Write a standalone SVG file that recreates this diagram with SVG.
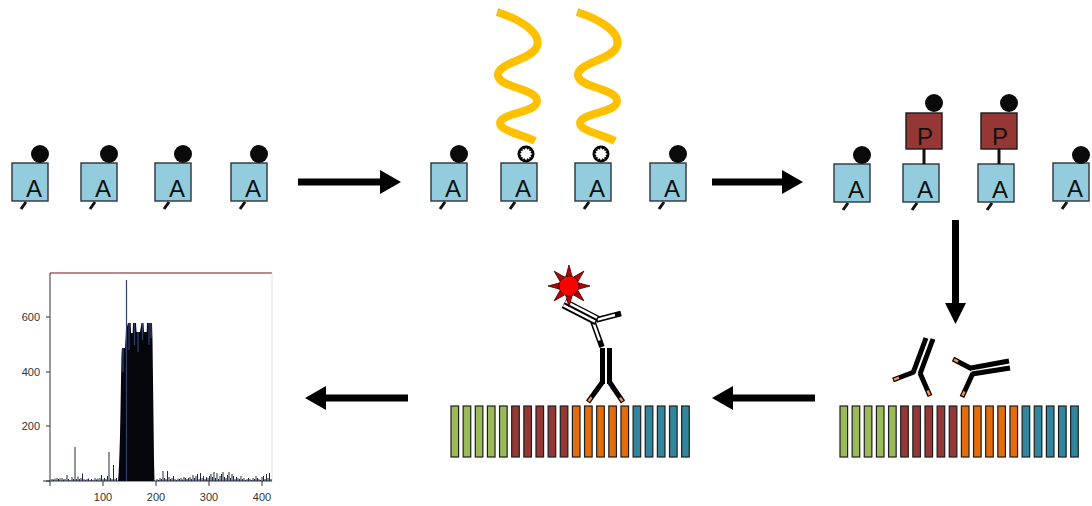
<svg xmlns="http://www.w3.org/2000/svg" xmlns:xlink="http://www.w3.org/1999/xlink" width="1092" height="506" viewBox="0 0 1092 506">
  <style>
    .abox { fill: #93CDDD; stroke: #2b3340; stroke-width: 1.4; }
    .pbox { fill: #953735; stroke: #1a1a1a; stroke-width: 1.4; }
    .lbl { font-family: "Liberation Sans", Arial, sans-serif; font-size: 24px; fill: #111; text-anchor: middle; }
    .tail { stroke: #111; stroke-width: 3; stroke-linecap: butt; }
    .dot { fill: #0a0a0a; }
    .link { stroke: #111; stroke-width: 3; }
    .wave { fill: none; stroke: #FFC000; stroke-width: 8; stroke-linecap: butt; }
    .arrow { fill: #000; }
    .bar { stroke: #1e1e1e; stroke-width: 1.2; }
    .g { fill: #9BBB59; } .r { fill: #953735; } .o { fill: #E46C0A; } .t { fill: #31859C; }
    .ab { stroke: #000; stroke-width: 5; stroke-linecap: butt; fill: none; }
    .ab2 { stroke: #000; stroke-width: 5.5; stroke-linecap: butt; fill: none; }
    .ab3 { stroke: #000; stroke-width: 10; stroke-linecap: butt; fill: none; }
    .tip { stroke: #F79646; stroke-width: 2.4; stroke-linecap: butt; fill: none; }
    .wb { stroke: #fff; stroke-width: 2.4; stroke-linecap: butt; fill: none; }
    .axis { stroke: #333; stroke-width: 1; fill: none; }
    .tick { font-family: "Liberation Sans", Arial, sans-serif; font-size: 11px; fill: #333; }
    .hist { stroke: #1d2844; stroke-width: 1; fill: none; }
  </style>
  <defs>
    <!-- one A unit: box and its anchoring tail -->
    <g id="unitA">
      <rect class="abox" x="0" y="0" width="36" height="38"/>
      <line class="tail" x1="14" y1="39" x2="9" y2="46"/>
    </g>
    <!-- cleaved marker: black ring with white star inside -->
    <g id="burst">
      <circle r="8.5" fill="#000"/>
      <polygon fill="#fff" points="0,-6.5 1.4,-4.3 3.3,-5.6 3.4,-3.1 5.6,-3.3 4.4,-1.2 6.5,0 4.4,1.2 5.6,3.3 3.4,3.1 3.3,5.6 1.4,4.3 0,6.5 -1.4,4.3 -3.3,5.6 -3.4,3.1 -5.6,3.3 -4.4,1.2 -6.5,0 -4.4,-1.2 -5.6,-3.3 -3.4,-3.1 -3.3,-5.6 -1.4,-4.3"/>
    </g>
    <!-- strip of 20 coloured bars -->
    <g id="strip">
      <rect class="bar g" x="0" y="0" width="7.6" height="51"/>
      <rect class="bar g" x="12.14" y="0" width="7.6" height="51"/>
      <rect class="bar g" x="24.28" y="0" width="7.6" height="51"/>
      <rect class="bar g" x="36.42" y="0" width="7.6" height="51"/>
      <rect class="bar g" x="48.56" y="0" width="7.6" height="51"/>
      <rect class="bar r" x="60.7" y="0" width="7.6" height="51"/>
      <rect class="bar r" x="72.84" y="0" width="7.6" height="51"/>
      <rect class="bar r" x="84.98" y="0" width="7.6" height="51"/>
      <rect class="bar r" x="97.12" y="0" width="7.6" height="51"/>
      <rect class="bar r" x="109.26" y="0" width="7.6" height="51"/>
      <rect class="bar o" x="121.4" y="0" width="7.6" height="51"/>
      <rect class="bar o" x="133.54" y="0" width="7.6" height="51"/>
      <rect class="bar o" x="145.68" y="0" width="7.6" height="51"/>
      <rect class="bar o" x="157.82" y="0" width="7.6" height="51"/>
      <rect class="bar o" x="169.96" y="0" width="7.6" height="51"/>
      <rect class="bar t" x="182.1" y="0" width="7.6" height="51"/>
      <rect class="bar t" x="194.24" y="0" width="7.6" height="51"/>
      <rect class="bar t" x="206.38" y="0" width="7.6" height="51"/>
      <rect class="bar t" x="218.52" y="0" width="7.6" height="51"/>
      <rect class="bar t" x="230.66" y="0" width="7.6" height="51"/>
    </g>
  </defs>

  <rect width="1092" height="506" fill="#fff"/>

  <!-- stage 1: four units, all capped -->
  <g id="stage1">
    <g id="s1-u1"><use xlink:href="#unitA" x="12" y="163"/><text class="lbl" x="34" y="197">A</text><circle class="dot" cx="40" cy="154" r="9"/></g>
    <g id="s1-u2"><use xlink:href="#unitA" x="81" y="163"/><text class="lbl" x="103" y="197">A</text><circle class="dot" cx="109" cy="154" r="9"/></g>
    <g id="s1-u3"><use xlink:href="#unitA" x="155" y="163"/><text class="lbl" x="177" y="197">A</text><circle class="dot" cx="183" cy="154" r="9"/></g>
    <g id="s1-u4"><use xlink:href="#unitA" x="231" y="163"/><text class="lbl" x="253" y="197">A</text><circle class="dot" cx="259" cy="154" r="9"/></g>
  </g>

  <!-- stage 2: two caps opened by ligand strands -->
  <g id="stage2">
    <g id="s2-u1"><use xlink:href="#unitA" x="431" y="163"/><text class="lbl" x="453" y="197">A</text><circle class="dot" cx="459" cy="154" r="9"/></g>
    <g id="s2-u2"><use xlink:href="#unitA" x="501" y="163"/><text class="lbl" x="523" y="197">A</text><use xlink:href="#burst" x="526" y="154"/>
      <path class="wave" d="M497,12 C522,20 541,33 537,46 C533,60 498,62 498,75 C498,88 537,88 537,101 C537,113 500,113 500,123 C500,131 524,135 535,141"/></g>
    <g id="s2-u3"><use xlink:href="#unitA" x="575" y="163"/><text class="lbl" x="597" y="197">A</text><use xlink:href="#burst" x="601" y="154"/>
      <path class="wave" d="M577,12 C602,20 621,33 617,46 C613,60 578,62 578,75 C578,88 617,88 617,101 C617,113 580,113 580,123 C580,131 604,135 615,141"/></g>
    <g id="s2-u4"><use xlink:href="#unitA" x="650" y="163"/><text class="lbl" x="672" y="197">A</text><circle class="dot" cx="678" cy="154" r="9"/></g>
  </g>

  <!-- stage 3: P modules attached to the opened units -->
  <g id="stage3">
    <g id="s3-u1"><use xlink:href="#unitA" x="834" y="164"/><text class="lbl" x="856" y="198">A</text><circle class="dot" cx="862" cy="155" r="9"/></g>
    <g id="s3-u2"><use xlink:href="#unitA" x="903" y="164"/><text class="lbl" x="925" y="198">A</text>
      <line class="link" x1="924" y1="149" x2="924" y2="164"/>
      <rect class="pbox" x="906" y="113" width="36" height="36"/><text class="lbl" x="925" y="145">P</text>
      <circle class="dot" cx="934" cy="103" r="9"/></g>
    <g id="s3-u3"><use xlink:href="#unitA" x="978" y="164"/><text class="lbl" x="1000" y="198">A</text>
      <line class="link" x1="999" y1="149" x2="999" y2="164"/>
      <rect class="pbox" x="981" y="113" width="36" height="36"/><text class="lbl" x="1000" y="145">P</text>
      <circle class="dot" cx="1009" cy="103" r="9"/></g>
    <g id="s3-u4"><use xlink:href="#unitA" x="1053" y="163"/><text class="lbl" x="1075" y="197">A</text><circle class="dot" cx="1081" cy="155" r="9"/></g>
  </g>

  <!-- stage 4: free antibodies above the array -->
  <g id="stage4">
    <use xlink:href="#strip" x="840" y="406"/>
    <g id="ab-free1">
      <line class="ab" x1="926" y1="338" x2="913" y2="373"/>
      <line class="ab" x1="933" y1="339" x2="920" y2="374"/>
      <line class="ab" x1="914" y1="372" x2="893" y2="380"/>
      <line class="tip" x1="899" y1="377.7" x2="894" y2="379.6"/>
      <line class="ab" x1="920" y1="373" x2="930" y2="396"/>
      <line class="tip" x1="927.6" y1="390.4" x2="929.6" y2="395"/>
    </g>
    <g id="ab-free2">
      <line class="ab" x1="971" y1="368" x2="1009" y2="361"/>
      <line class="ab" x1="972" y1="374" x2="1010" y2="368"/>
      <line class="ab" x1="972" y1="369" x2="953" y2="359"/>
      <line class="tip" x1="958" y1="361.6" x2="954" y2="359.5"/>
      <line class="ab" x1="973" y1="373" x2="962" y2="397"/>
      <line class="tip" x1="964.4" y1="391.5" x2="962.5" y2="395.8"/>
    </g>
  </g>

  <!-- stage 5: primary antibody bound, labelled secondary on top -->
  <g id="stage5">
    <use xlink:href="#strip" x="451" y="406"/>
    <g id="ab-primary">
      <rect x="600" y="348" width="5" height="36" fill="#000"/>
      <rect x="607" y="348" width="5" height="36" fill="#000"/>
      <line class="ab" x1="602.5" y1="382" x2="588" y2="402"/>
      <line class="tip" x1="591.5" y1="397.2" x2="588.6" y2="401.2"/>
      <line class="ab" x1="609.5" y1="382" x2="623" y2="402"/>
      <line class="tip" x1="620" y1="397.6" x2="622.4" y2="401.2"/>
    </g>
    <g id="ab-secondary">
      <line class="ab2" x1="593" y1="322" x2="602" y2="347"/>
      <line class="wb" x1="593.6" y1="323.5" x2="599.6" y2="340.5"/>
      <line class="ab2" x1="596" y1="320" x2="621" y2="313.5"/>
      <line class="wb" x1="597.5" y1="319.6" x2="615" y2="315"/>
      <line class="ab3" x1="564" y1="303.5" x2="597" y2="320.5"/>
      <line class="wb" x1="565.5" y1="301.4" x2="597" y2="317.6"/>
      <line class="wb" x1="563.5" y1="305.4" x2="595" y2="321.6"/>
    </g>
    <g id="fluor">
      <g fill="#C00000" stroke="#3a0000" stroke-width="0.8">
        <polygon points="569,265 572,276 566,276"/>
        <polygon points="569,265 572,276 566,276" transform="rotate(45 569 286)"/>
        <polygon points="569,265 572,276 566,276" transform="rotate(90 569 286)"/>
        <polygon points="569,265 572,276 566,276" transform="rotate(135 569 286)"/>
        <polygon points="569,265 572,276 566,276" transform="rotate(180 569 286)"/>
        <polygon points="569,265 572,276 566,276" transform="rotate(225 569 286)"/>
        <polygon points="569,265 572,276 566,276" transform="rotate(270 569 286)"/>
        <polygon points="569,265 572,276 566,276" transform="rotate(315 569 286)"/>
      </g>
      <circle cx="569" cy="286" r="10" fill="#FF0000" stroke="#4a0000" stroke-width="1"/>
    </g>
  </g>

  <!-- stage 6: readout histogram -->
  <g id="histogram">
    <line x1="50" y1="273" x2="272" y2="273" stroke="#A06464" stroke-width="1.4"/>
    <line x1="272" y1="273" x2="272" y2="481" stroke="#e2e2e2" stroke-width="1"/>
    <path class="axis" d="M50,273V481M43,481H272M46,317H50M46,372H50M46,426H50M46,481H50M50,481V486M103,481V486M156,481V486M209,481V486M262,481V486"/>
    <g class="tick" text-anchor="end">
      <text x="40" y="321">600</text>
      <text x="40" y="376">400</text>
      <text x="40" y="430">200</text>
    </g>
    <g class="tick" text-anchor="middle">
      <text x="103" y="501">100</text>
      <text x="156" y="501">200</text>
      <text x="209" y="501">300</text>
      <text x="262" y="501">400</text>
    </g>
    <path class="hist" d="M52 481V479M53.5 481V479.5M55 481V478.5M57 481V478M58.5 481V479M60 481V478.5M62 481V478M63.5 481V479.5M65 481V479M67 481V475M68.5 481V479M70 481V480M72 481V477M73.5 481V479M75 481V447M76.5 481V479M78 481V476.5M79.5 481V479M81 481V478M82.5 481V473.5M84 481V479M85.5 481V480M87 481V479M88.5 481V478.5M90 481V480M91.5 481V479M93 481V480M95 481V478M96.5 481V479.5M98 481V478.5M100 481V478M101.5 481V475M103 481V479M104.5 481V478M106 481V479M107.5 481V476M109 481V452M110.5 481V478M112 481V479M113.5 481V465M115 481V479M116.5 481V478"/>
    <path class="hist" d="M157 481V479M158.5 481V480M160 481V478M161.5 481V479M163 481V471M164.5 481V478M166 481V479M167.5 481V471M169 481V477M170.5 481V479M172 481V478M173.5 481V476M175 481V479M176.5 481V480M178 481V478.5M179.5 481V479M181 481V478M182.5 481V479.5M184 481V477M185.5 481V478M187 481V479M188.5 481V478M190 481V477M191.5 481V479M193 481V475M194.5 481V478M196 481V476M197.5 481V474M199 481V479M200.5 481V473M202 481V478M203.5 481V476M205 481V479M206.5 481V477M208 481V478M209.5 481V476M211 481V474M212.5 481V477M214 481V472M215.5 481V478M217 481V473M218.5 481V479M220 481V476M221.5 481V474M223 481V472M224.5 481V477M226 481V478M227.5 481V475M229 481V472M230.5 481V478M232 481V474M233.5 481V476M235 481V479M236.5 481V477M238 481V478M239.5 481V479M241 481V476M242.5 481V479M244 481V478M245.5 481V480M247 481V479M248.5 481V478M250 481V479M251.5 481V480M253 481V478M254.5 481V479M256 481V476M257.5 481V478M259 481V479M260.5 481V480M262 481V477M263.5 481V476M265 481V479M266.5 481V474M268 481V478M269.5 481V473M271 481V479"/>
    <polygon fill="#05060c" points="118,481 118.5,475 119,465 119.5,452 120,435 120.5,410 121,380 121.5,355 122,348 125,348 125.5,340 126,330 128,323 130.7,323 131,333 132.7,333 133,323 136,323 136.5,332 140,332 141.5,323 143.5,323 144,332 146.7,332 147,323 152,323 152.5,340 153,380 153.5,420 154,460 154.5,481"/>
    <path stroke="#2f4170" stroke-width="1.2" fill="none" d="M126.5 481V280M123 348V372M129 323V350M134.5 323V345M138 332V352M142.5 323V340M149 323V345M151 323V338"/>
  </g>

  <!-- process arrows -->
  <g id="connectors">
    <polygon class="arrow" points="298,178.5 380,178.5 380,170 401,182 380,194 380,185.5 298,185.5"/>
    <polygon class="arrow" points="712,178.5 782,178.5 782,170 803,182 782,194 782,185.5 712,185.5"/>
    <polygon class="arrow" points="952,220 959,220 959,303 966,303 955.5,324 945,303 952,303"/>
    <polygon class="arrow" points="712,398 733,386 733,394.5 815,394.5 815,401.5 733,401.5 733,410"/>
    <polygon class="arrow" points="305,398 326,386 326,394.5 408,394.5 408,401.5 326,401.5 326,410"/>
  </g>
</svg>
